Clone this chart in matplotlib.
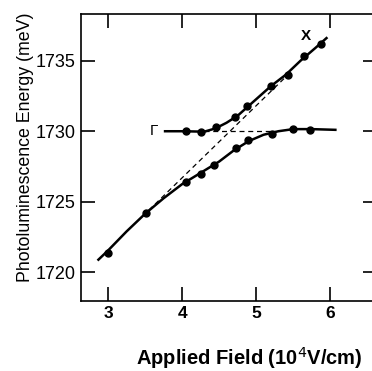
#!/usr/bin/env python3

import matplotlib.pyplot as plt

# measured points (field in 10^4 V/cm, energy in meV)
low_x = [3.0, 3.51, 4.05, 4.25, 4.43, 4.73, 4.89, 5.22, 5.5, 5.73]
low_y = [1721.35, 1724.2, 1726.4, 1726.97, 1727.6, 1728.8, 1729.4, 1729.8, 1730.15, 1730.07]
up_x = [4.05, 4.25, 4.46, 4.71, 4.88, 5.2, 5.43, 5.65, 5.87]
up_y = [1730.0, 1729.93, 1730.3, 1731.0, 1731.8, 1733.2, 1734.0, 1735.3, 1736.2]

# solid fitted curves
low_fit_x = [2.87, 3.0, 3.25, 3.5, 3.75, 4.0, 4.25, 4.5, 4.7, 4.9, 5.1, 5.3, 5.5, 5.75, 6.07]
low_fit_y = [1720.9, 1721.55, 1722.9, 1724.15, 1725.25, 1726.25, 1727.05, 1727.85, 1728.65,
             1729.3, 1729.75, 1730.0, 1730.15, 1730.15, 1730.1]
up_fit_x = [3.77, 4.0, 4.3, 4.45, 4.6, 4.75, 4.9, 5.05, 5.2, 5.4, 5.6, 5.8, 5.95]
up_fit_y = [1730.0, 1730.0, 1729.97, 1730.2, 1730.6, 1731.1, 1731.8, 1732.5, 1733.2,
            1734.0, 1735.0, 1735.9, 1736.6]

# uncoupled (dashed) levels
gamma_x = [4.3, 5.25]
gamma_y = [1730.0, 1730.0]
xlev_x = [3.55, 5.4]
xlev_y = [1724.4, 1733.85]

xticks = [3, 4, 5, 6]
yticks = [1720, 1725, 1730, 1735]


def main():
  plt.rcParams["font.family"] = ["Liberation Sans", "DejaVu Sans"]
  fig = plt.figure(figsize=(3.72, 3.71), dpi=100)
  ax = fig.add_axes([0.218, 0.189, 0.795, 0.773])

  ax.plot(low_fit_x, low_fit_y, color="black", lw=1.8)
  ax.plot(up_fit_x, up_fit_y, color="black", lw=1.8)
  ax.plot(gamma_x, gamma_y, color="black", lw=0.9, ls=(0, (4, 3)))
  ax.plot(xlev_x, xlev_y, color="black", lw=0.9, ls=(0, (4, 3)))
  ax.plot(low_x, low_y, "o", color="black", ms=5)
  ax.plot(up_x, up_y, "o", color="black", ms=5)

  ax.text(3.615, 1730.0, "Γ", fontsize=11, ha="center", va="center")
  ax.text(5.67, 1736.75, "X", fontsize=11, fontweight="bold", ha="center", va="center")

  ax.set_xlim(2.636, 6.63)
  ax.set_ylim(1717.98, 1738.3)
  ax.set_xticks(xticks)
  ax.set_yticks(yticks)
  ax.tick_params(direction="in", length=10, width=1.2, top=True, right=True,
                 labelsize=13, pad=4)
  ax.tick_params(axis="x", labelsize=12.5)
  for lab in ax.get_xticklabels():
    lab.set_fontweight("bold")
  for s in ax.spines.values():
    s.set_linewidth(1.2)

  ax.set_xlabel("Applied Field (10$^4$V/cm)", fontsize=14.5, fontweight="bold", va="center")
  ax.xaxis.set_label_coords(0.568, -0.2)
  ax.set_ylabel("Photoluminescence Energy (meV)", fontsize=12.8, va="center")
  ax.yaxis.set_label_coords(-0.187, 0.535)

  fig.savefig("out.png", dpi=100)


if __name__ == "__main__":
  main()
